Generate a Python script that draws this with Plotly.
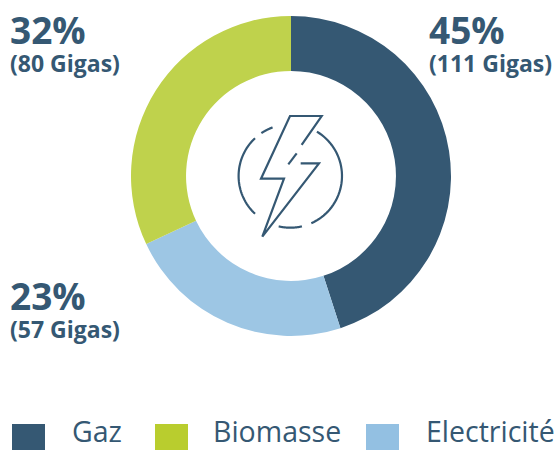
import numpy as np
import plotly.graph_objects as go

W, H = 557, 450
categories = ["Gaz", "Electricité", "Biomasse"]
percent = [45, 23, 32]
gigas = [111, 57, 80]
slice_colors = ["#355873", "#9DC6E4", "#BFD24C"]

legend_names = ["Gaz", "Biomasse", "Electricité"]
legend_colors = ["#355873", "#B9CD2E", "#93C0E2"]
TXT = "#355873"
FONT = "Open Sans"

def X(p): return p / W
def Y(p): return 1 - p / H

fig = go.Figure(go.Pie(
    labels=categories, values=percent, sort=False, direction="clockwise", rotation=0,
    hole=0.656, marker=dict(colors=slice_colors, line=dict(width=0)),
    textinfo="none", hoverinfo="label+percent", showlegend=False,
    domain=dict(x=[X(131), X(451)], y=[Y(336), Y(16)]),
))

annotations, shapes = [], []

def label(x, y, text, size, weight="bold", anchor="middle"):
    annotations.append(dict(x=X(x), y=Y(y), xref="paper", yref="paper", text=text, showarrow=False,
                            xanchor="left", yanchor=anchor, align="left", borderpad=0,
                            font=dict(family=FONT, size=size, color=TXT, weight=weight)))

# value labels: (index in arrays, x, top y of the block)
for i, x, y in [(0, 428, 3), (2, 9, 3), (1, 9, 269)]:
    label(x, y, f'<span style="font-size:37px">{percent[i]}%</span><br>'
                f'<span style="font-size:23px">({gigas[i]} Gigas)</span>', 21.5, "bold", "top")

# legend
for name, col, sx, tx in zip(legend_names, legend_colors, [12, 155, 366], [71, 212, 425]):
    shapes.append(dict(type="rect", xref="paper", yref="paper", x0=X(sx), x1=X(sx + 33),
                       y0=Y(450), y1=Y(424), fillcolor=col, line=dict(width=0), layer="above"))
    label(tx, 430.5, name, 28.5, "normal")

# bolt icon
def path(points):
    return "M" + " L".join(f"{X(a):.5f},{Y(b):.5f}" for a, b in points)

def zpt(zx, zy): return (210 + zx / 3, 100 + zy / 3)

def icon(points):
    shapes.append(dict(type="path", xref="paper", yref="paper", path=path(points),
                       line=dict(color=TXT, width=2.2), layer="above"))

icon([zpt(*p) for p in [(275, 135), (335, 48), (240, 48), (153, 236), (222, 236), (157, 410), (327, 190), (272, 190)]])
icon([zpt(260, 160), zpt(235, 193)])

cx, cy, r = 290.3, 176, 51.7
def arc(d0, d1):
    t = np.radians(np.linspace(d0, d1, 40))  # degrees clockwise from top
    icon([(cx + r * np.sin(v), cy - r * np.cos(v)) for v in t])
for d0, d1 in [(-34, -20), (-43, -137), (-167, -193), (-204, -329)]:
    arc(d0, d1)

fig.update_layout(width=W, height=H, margin=dict(l=0, r=0, t=0, b=0), paper_bgcolor="white",
                  plot_bgcolor="white", annotations=annotations, shapes=shapes)
fig.write_html("out.html", config=dict(displayModeBar=False),
               post_script="document.body.style.margin='0';")
